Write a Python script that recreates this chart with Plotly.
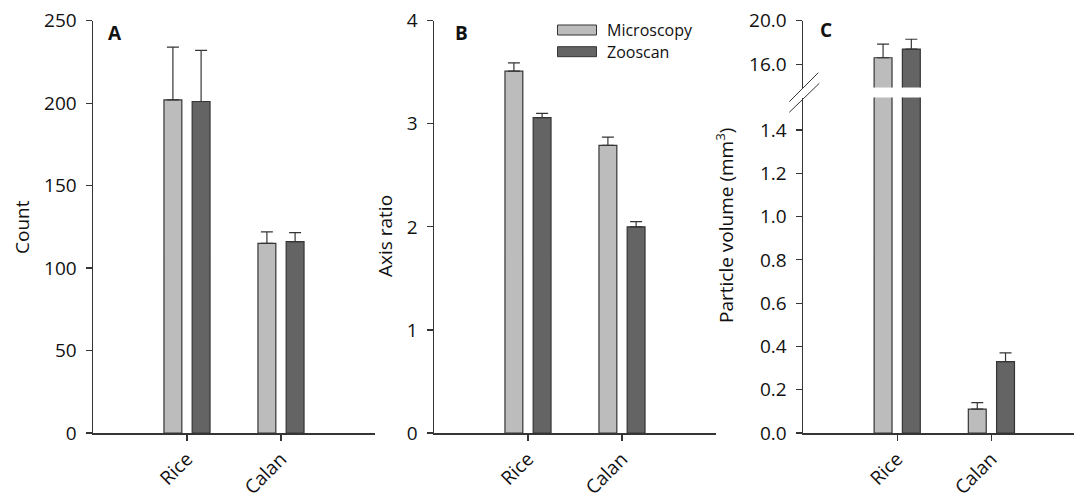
import plotly.graph_objects as go

# ---------------- data ----------------
categories = ["Rice", "Calan"]
series_names = ["Microscopy", "Zooscan"]

count_micro = [202, 115]
count_micro_err = [32, 7]
count_zoo = [201, 116]
count_zoo_err = [31, 5.5]

ratio_micro = [3.51, 2.79]
ratio_micro_err = [0.08, 0.08]
ratio_zoo = [3.06, 2.00]
ratio_zoo_err = [0.04, 0.05]

vol_micro = [16.6, 0.11]
vol_micro_err = [1.25, 0.03]
vol_zoo = [17.4, 0.33]
vol_zoo_err = [0.9, 0.04]

count_ticks = [0, 50, 100, 150, 200, 250]
ratio_ticks = [0, 1, 2, 3, 4]
vol_low_ticks = [0.0, 0.2, 0.4, 0.6, 0.8, 1.0, 1.2, 1.4]
vol_high_ticks = [16.0, 20.0]

# ---------------- styling ----------------
W, H = 1074, 493
LIGHT = "#bcbcbc"
DARK = "#646464"
EDGE = "#353535"
TXT = "#111111"
FONT = "Open Sans"
colors = [LIGHT, DARK]
offsets = [-0.245, 0.055]
BW = 0.19

def px(x):
    return x / W

def py(y):
    return 1 - y / H

cat_pos = [1, 2]

fig = go.Figure()

def add_bars(xa, ya, vals_list, err_list, idx=None):
    for s in range(2):
        vals = vals_list[s]
        errs = err_list[s]
        xs = [cat_pos[i] for i in range(len(vals))]
        ev = list(errs)
        if idx is not None:
            xs = [cat_pos[i] for i in idx]
            vals = [vals[i] for i in idx]
            ev = [errs[i] for i in idx]
        fig.add_trace(go.Bar(
            x=xs, y=vals, name=series_names[s], showlegend=False,
            xaxis=xa, yaxis=ya,
            width=BW, offset=offsets[s],
            marker=dict(color=colors[s], line=dict(color=EDGE, width=1.2)),
            error_y=dict(type="data", symmetric=False, array=ev,
                         arrayminus=[0] * len(ev), color=EDGE,
                         thickness=1.2, width=6, visible=True),
        ))

# Panel A
add_bars("x", "y", [count_micro, count_zoo], [count_micro_err, count_zoo_err])
# Panel B
add_bars("x2", "y2", [ratio_micro, ratio_zoo], [ratio_micro_err, ratio_zoo_err])
# Panel C lower (Calan with error, Rice without)
for s, (v, e) in enumerate([(vol_micro, vol_micro_err), (vol_zoo, vol_zoo_err)]):
    fig.add_trace(go.Bar(
        x=cat_pos, y=v, showlegend=False, xaxis="x3", yaxis="y3",
        width=BW, offset=offsets[s],
        marker=dict(color=colors[s], line=dict(color=EDGE, width=1.2)),
        error_y=dict(type="data", symmetric=False,
                     array=[0, e[1]], arrayminus=[0, 0], color=EDGE,
                     thickness=1.2, width=6),
    ))
# Panel C upper (Rice only)
add_bars("x3", "y4", [vol_micro, vol_zoo], [vol_micro_err, vol_zoo_err], idx=[0])

tickfont = dict(family=FONT, size=19, color=TXT)
common_x = dict(range=[0, 3], tickvals=cat_pos, ticktext=categories, tickangle=-45,
                ticks="outside", ticklen=6, tickwidth=1.2, tickcolor=EDGE,
                showline=True, linecolor=EDGE, linewidth=1.5, showgrid=False,
                zeroline=False, tickfont=tickfont, fixedrange=True, automargin=False)
common_y = dict(ticks="outside", ticklen=6, tickwidth=1.2, tickcolor=EDGE,
                showline=True, linecolor=EDGE, linewidth=1.5, showgrid=False,
                zeroline=False, tickfont=tickfont, fixedrange=True, automargin=False,
                ticklabelstandoff=5)

y_bot = py(433)
y_top = py(20.7)

layout = dict(
    width=W, height=H,
    margin=dict(l=0, r=0, t=0, b=0, pad=0, autoexpand=False),
    paper_bgcolor="white", plot_bgcolor="rgba(0,0,0,0)",
    showlegend=False,
    barmode="overlay",
    font=dict(family=FONT, color=TXT),
    xaxis=dict(common_x, domain=[px(93), px(375)], anchor="y"),
    yaxis=dict(common_y, domain=[y_bot, y_top], range=[0, 250], tickvals=count_ticks, anchor="x"),
    xaxis2=dict(common_x, domain=[px(434), px(716)], anchor="y2"),
    yaxis2=dict(common_y, domain=[y_bot, y_top], range=[0, 4], tickvals=ratio_ticks, anchor="x2"),
    xaxis3=dict(common_x, domain=[px(803), 1.0], range=[0, 271 / 94.2], anchor="y3"),
    yaxis3=dict(common_y, domain=[y_bot, py(97.5)], range=[0, (433 - 97.5) / 216.4],
                tickvals=vol_low_ticks, tickformat=".1f", anchor="x3"),
    yaxis4=dict(common_y, domain=[py(87.5), y_top], range=[16 - (87.5 - 64.3) / 10.9, 20],
                tickvals=vol_high_ticks, tickformat=".1f", anchor="x3"),
)
fig.update_layout(**layout)

ann = []
# panel letters
for lab, x, y in [("A", 115, 33), ("B", 461, 33), ("C", 826, 30)]:
    ann.append(dict(text="<b>%s</b>" % lab, x=px(x), y=py(y), xref="paper", yref="paper",
                    showarrow=False, font=dict(family=FONT, size=19, color=TXT),
                    xanchor="center", yanchor="middle"))
# axis titles
for t, x, y in [("Count", 22, 227), ("Axis ratio", 385, 236),
                ("Particle volume (mm<sup>3</sup>)", 725, 226)]:
    ann.append(dict(text=t, x=px(x), y=py(y), xref="paper", yref="paper", textangle=-90,
                    showarrow=False, font=dict(family=FONT, size=19, color=TXT),
                    xanchor="center", yanchor="middle"))
# legend labels
for i, (name, yc) in enumerate(zip(series_names, [30, 51.7])):
    ann.append(dict(text=name, x=px(605), y=py(yc), xref="paper", yref="paper",
                    showarrow=False, font=dict(family=FONT, size=16, color=TXT),
                    xanchor="left", yanchor="middle"))

shapes = []
for i, yc in enumerate([30, 51.7]):
    shapes.append(dict(type="rect", xref="paper", yref="paper",
                       x0=px(557.5), x1=px(596.5), y0=py(yc - 5), y1=py(yc + 5),
                       fillcolor=colors[i], line=dict(color=EDGE, width=1)))
# axis break marks
for (x0, y0, x1, y1) in [(789.3, 101.7, 818.3, 72.7), (789.3, 112.3, 819.3, 83.3)]:
    shapes.append(dict(type="line", xref="paper", yref="paper",
                       x0=px(x0), y0=py(y0), x1=px(x1), y1=py(y1),
                       line=dict(color=EDGE, width=1)))

fig.update_layout(annotations=ann, shapes=shapes)
fig.write_html(
    "out.html",
    config={"displayModeBar": False, "staticPlot": True},
    post_script="document.body.style.margin='0';document.body.style.padding='0';"
                "document.body.style.overflow='hidden';",
)
